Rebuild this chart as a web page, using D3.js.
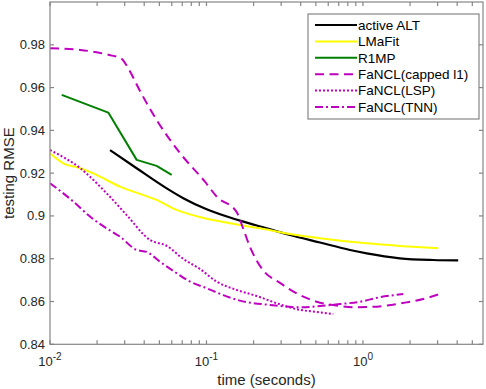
<!DOCTYPE html>
<html><head><meta charset="utf-8">
<script src="https://cdn.jsdelivr.net/npm/d3@7"></script>
<style>
html,body{margin:0;padding:0;background:#fff;}
svg{display:block;font-family:"Liberation Sans",Arial,Helvetica,sans-serif;}
</style></head>
<body>
<svg id="chart" width="486" height="389"></svg>
<script>
// ---- data (time in seconds, testing RMSE) ----
const seriesNames = ["active ALT","LMaFit","R1MP","FaNCL(capped l1)","FaNCL(LSP)","FaNCL(TNN)"];

const activeALT_t = [0.0242,0.0358,0.0557,0.0711,0.1003,0.1637,0.2427,0.342,0.531,0.826,1.057,1.72,2.81,4.06];
const activeALT_v = [0.9308,0.9223,0.9129,0.9083,0.9031,0.8978,0.8942,0.8911,0.8876,0.8841,0.8825,0.8802,0.8794,0.8792];

const lmafit_t = [0.01,0.01216,0.0156,0.0189,0.0230,0.0280,0.0376,0.048,0.0645,0.0908,0.1413,0.2198,0.342,0.531,1.057,1.72,3.03];
const lmafit_v = [0.9293,0.9246,0.9223,0.9199,0.9168,0.9137,0.9103,0.9075,0.9028,0.8995,0.8966,0.8942,0.8916,0.8896,0.8872,0.886,0.8849];

const r1mp_t = [0.01188,0.02358,0.0358,0.048,0.0599];
const r1mp_v = [0.9566,0.9483,0.9262,0.9234,0.9192];

const capped_t = [0.01,0.0156,0.0224,0.0287,0.0315,0.0376,0.048,0.0677,0.0978,0.1167,0.156,0.171,0.1897,0.2296,0.295,0.377,0.506,0.713,0.929,1.343,1.90,2.43,3.18];
const capped_v = [0.9784,0.9776,0.9757,0.9734,0.9692,0.9584,0.9449,0.9294,0.916,0.9089,0.9018,0.8944,0.8855,0.8747,0.8687,0.8638,0.8599,0.8579,0.8573,0.8579,0.8596,0.8612,0.8638];

const lsp_t = [0.01,0.0156,0.0230,0.0309,0.0435,0.0557,0.0711,0.0908,0.1161,0.156,0.209,0.281,0.377,0.506,0.646];
const lsp_v = [0.9308,0.9223,0.9106,0.9004,0.8888,0.886,0.8799,0.8752,0.8693,0.8654,0.8626,0.8592,0.8564,0.8551,0.8542];

const tnn_t = [0.01,0.0141,0.018,0.023,0.028,0.0358,0.0415,0.0504,0.0614,0.0785,0.1003,0.128,0.1637,0.2545,0.396,0.531,0.713,0.957,1.284,1.81];
const tnn_v = [0.9153,0.9067,0.8997,0.8942,0.8903,0.8841,0.8832,0.8786,0.8743,0.8693,0.8662,0.863,0.8604,0.8584,0.8573,0.8579,0.8588,0.8599,0.862,0.8635];

const yTicks = [0.84,0.86,0.88,0.9,0.92,0.94,0.96,0.98];
const yTickLabels = ["0.84","0.86","0.88","0.9","0.92","0.94","0.96","0.98"];
const xMajorTicks = [0.01,0.1,1];
const xMajorExp = ["-2","-1","0"];
const xDomain = [0.01, 5.85];
const yDomain = [0.84, 1.0];

// ---- styles ----
const styles = [
  {color:"#000000", dash:null, width:2.2, curve:d3.curveMonotoneX},
  {color:"#ffff00", dash:null, width:2, curve:d3.curveMonotoneX},
  {color:"#007f00", dash:null, width:2, curve:d3.curveLinear},
  {color:"#bf00bf", dash:"9,5.5", width:2, curve:d3.curveMonotoneX},
  {color:"#bf00bf", dash:"2,2", width:2, curve:d3.curveMonotoneX},
  {color:"#bf00bf", dash:"8,3,2,3", width:2, curve:d3.curveMonotoneX}
];
const seriesT = [activeALT_t,lmafit_t,r1mp_t,capped_t,lsp_t,tnn_t];
const seriesV = [activeALT_v,lmafit_v,r1mp_v,capped_v,lsp_v,tnn_v];

const L=50, R=483, T=2, B=344.3;
const axisColor="#858585", textColor="#262626";

const svg = d3.select("#chart");
const x = d3.scaleLog().domain(xDomain).range([L,R]);
const y = d3.scaleLinear().domain(yDomain).range([B,T]);

svg.append("defs").append("clipPath").attr("id","clip")
  .append("rect").attr("x",L).attr("y",T).attr("width",R-L).attr("height",B-T);

const g = svg.append("g").attr("clip-path","url(#clip)");
seriesT.forEach((ts,i)=>{
  const pts = ts.map((t,j)=>[t,seriesV[i][j]]);
  const line = d3.line().x(d=>x(d[0])).y(d=>y(d[1])).curve(styles[i].curve);
  g.append("path").attr("d",line(pts)).attr("fill","none")
    .attr("stroke",styles[i].color).attr("stroke-width",styles[i].width)
    .attr("stroke-dasharray",styles[i].dash)
    .attr("stroke-linejoin","round");
});

// axes
const tl = 4;
const minorTicks = [];
for (let e=-2;e<=0;e++){ for(let k=1;k<=9;k++){ const v=k*Math.pow(10,e); if(v>=xDomain[0]&&v<=xDomain[1]) minorTicks.push(v);} }
const ax = svg.append("g").attr("stroke",axisColor).attr("stroke-width",1.2).attr("fill","none");
ax.append("rect").attr("x",L).attr("y",T).attr("width",R-L).attr("height",B-T);
minorTicks.forEach(v=>{
  const px = x(v);
  ax.append("line").attr("x1",px).attr("x2",px).attr("y1",B).attr("y2",B-tl);
  ax.append("line").attr("x1",px).attr("x2",px).attr("y1",T).attr("y2",T+tl);
});
yTicks.forEach(v=>{
  const py = y(v);
  ax.append("line").attr("x1",L).attr("x2",L+tl).attr("y1",py).attr("y2",py);
  ax.append("line").attr("x1",R).attr("x2",R-tl).attr("y1",py).attr("y2",py);
});

// tick labels
const tg = svg.append("g").attr("fill",textColor).attr("font-size",13);
yTicks.forEach((v,i)=>{
  tg.append("text").attr("x",L-5).attr("y",y(v)).attr("dy","0.35em")
    .attr("text-anchor","end").text(yTickLabels[i]);
});
xMajorTicks.forEach((v,i)=>{
  const t = tg.append("text").attr("x",x(v)).attr("y",366).attr("text-anchor","middle");
  t.append("tspan").text("10");
  t.append("tspan").attr("dy",-6).attr("font-size",10).text(xMajorExp[i]);
});

// axis labels
svg.append("text").attr("x",(L+R)/2).attr("y",385).attr("text-anchor","middle")
  .attr("fill",textColor).attr("font-size",15).text("time (seconds)");
svg.append("text").attr("transform",`translate(14,${(T+B)/2}) rotate(-90)`)
  .attr("text-anchor","middle").attr("fill",textColor).attr("font-size",15).text("testing RMSE");

// legend
const lg = svg.append("g");
lg.append("rect").attr("x",308).attr("y",14).attr("width",171).attr("height",105)
  .attr("fill","#fff").attr("stroke",axisColor).attr("stroke-width",1.2);
seriesNames.forEach((name,i)=>{
  const yy = 25 + i*16.4;
  lg.append("line").attr("x1",315).attr("x2",357).attr("y1",yy).attr("y2",yy)
    .attr("stroke",styles[i].color).attr("stroke-width",styles[i].width)
    .attr("stroke-dasharray",styles[i].dash);
  lg.append("text").attr("x",358).attr("y",yy).attr("dy","0.35em")
    .attr("fill","#000").attr("font-size",13.5).text(name);
});
</script>
</body></html>
